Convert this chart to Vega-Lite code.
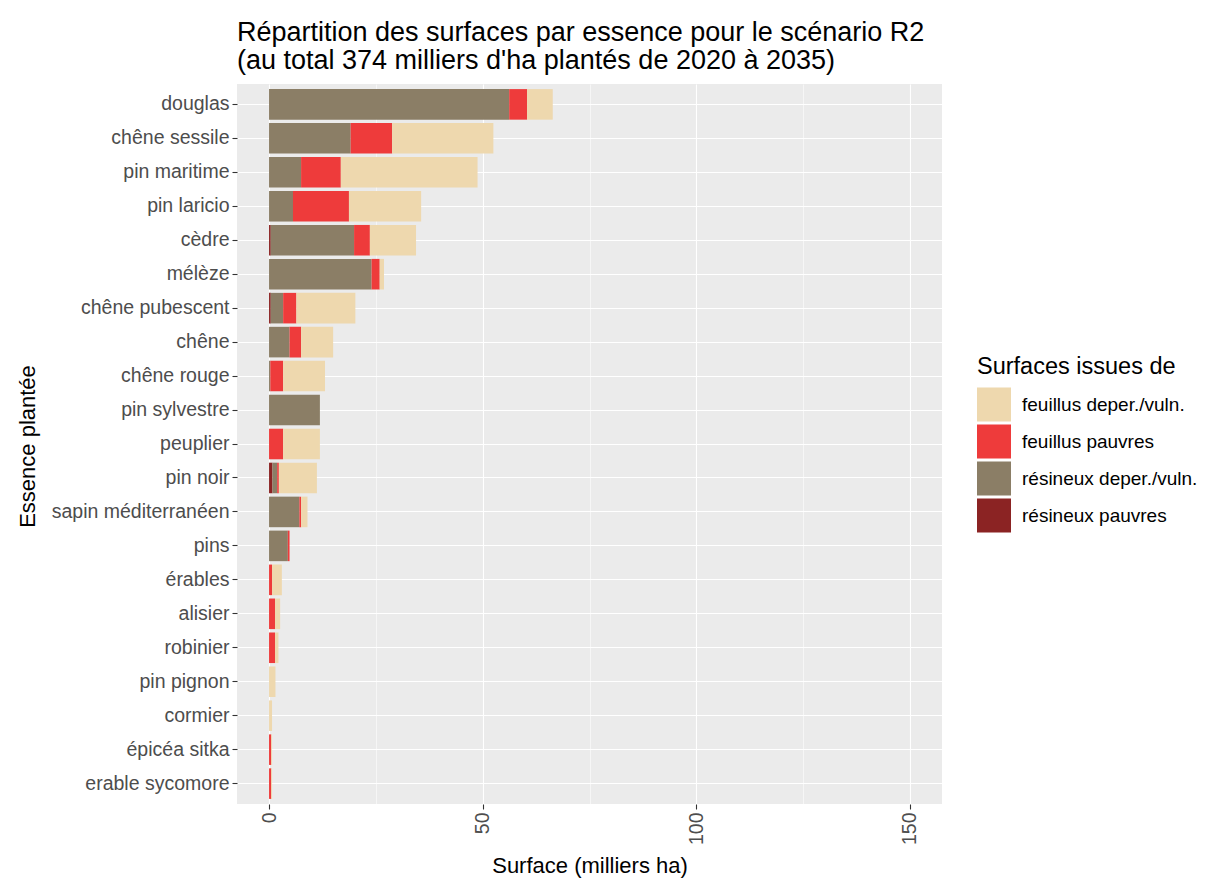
{
  "$schema": "https://vega.github.io/schema/vega-lite/v6.json",
  "width": 705,
  "height": 720,
  "autosize": {"type": "none"},
  "padding": {"left": 237, "top": 84, "right": 267, "bottom": 76},
  "background": "white",
  "title": {
    "text": ["Répartition des surfaces par essence pour le scénario R2", "(au total 374 milliers d'ha plantés de 2020 à 2035)"],
    "anchor": "start",
    "frame": "group",
    "font": "Liberation Sans",
    "fontSize": 27,
    "fontWeight": "normal",
    "color": "black",
    "lineHeight": 28.5,
    "offset": 9
  },
  "config": {
    "view": {"fill": "#EBEBEB", "stroke": null},
    "font": "Liberation Sans"
  },
  "data": {
    "values": [
      {"essence": "douglas", "type": "résineux deper./vuln.", "surface": 56.2},
      {"essence": "douglas", "type": "feuillus pauvres", "surface": 4.2},
      {"essence": "douglas", "type": "feuillus deper./vuln.", "surface": 6.0},
      {"essence": "chêne sessile", "type": "résineux deper./vuln.", "surface": 19.1},
      {"essence": "chêne sessile", "type": "feuillus pauvres", "surface": 9.7},
      {"essence": "chêne sessile", "type": "feuillus deper./vuln.", "surface": 23.7},
      {"essence": "pin maritime", "type": "résineux deper./vuln.", "surface": 7.5},
      {"essence": "pin maritime", "type": "feuillus pauvres", "surface": 9.3},
      {"essence": "pin maritime", "type": "feuillus deper./vuln.", "surface": 32.0},
      {"essence": "pin laricio", "type": "résineux deper./vuln.", "surface": 5.6},
      {"essence": "pin laricio", "type": "feuillus pauvres", "surface": 13.1},
      {"essence": "pin laricio", "type": "feuillus deper./vuln.", "surface": 16.9},
      {"essence": "cèdre", "type": "résineux pauvres", "surface": 0.4},
      {"essence": "cèdre", "type": "résineux deper./vuln.", "surface": 19.5},
      {"essence": "cèdre", "type": "feuillus pauvres", "surface": 3.7},
      {"essence": "cèdre", "type": "feuillus deper./vuln.", "surface": 10.8},
      {"essence": "mélèze", "type": "résineux deper./vuln.", "surface": 24.0},
      {"essence": "mélèze", "type": "feuillus pauvres", "surface": 1.9},
      {"essence": "mélèze", "type": "feuillus deper./vuln.", "surface": 1.0},
      {"essence": "chêne pubescent", "type": "résineux pauvres", "surface": 0.4},
      {"essence": "chêne pubescent", "type": "résineux deper./vuln.", "surface": 2.9},
      {"essence": "chêne pubescent", "type": "feuillus pauvres", "surface": 3.1},
      {"essence": "chêne pubescent", "type": "feuillus deper./vuln.", "surface": 13.8},
      {"essence": "chêne", "type": "résineux deper./vuln.", "surface": 4.8},
      {"essence": "chêne", "type": "feuillus pauvres", "surface": 2.7},
      {"essence": "chêne", "type": "feuillus deper./vuln.", "surface": 7.5},
      {"essence": "chêne rouge", "type": "résineux deper./vuln.", "surface": 0.3},
      {"essence": "chêne rouge", "type": "feuillus pauvres", "surface": 3.0},
      {"essence": "chêne rouge", "type": "feuillus deper./vuln.", "surface": 9.8},
      {"essence": "pin sylvestre", "type": "résineux deper./vuln.", "surface": 11.9},
      {"essence": "peuplier", "type": "feuillus pauvres", "surface": 3.3},
      {"essence": "peuplier", "type": "feuillus deper./vuln.", "surface": 8.6},
      {"essence": "pin noir", "type": "résineux pauvres", "surface": 0.8},
      {"essence": "pin noir", "type": "résineux deper./vuln.", "surface": 1.1},
      {"essence": "pin noir", "type": "feuillus pauvres", "surface": 0.4},
      {"essence": "pin noir", "type": "feuillus deper./vuln.", "surface": 8.9},
      {"essence": "sapin méditerranéen", "type": "résineux deper./vuln.", "surface": 7.1},
      {"essence": "sapin méditerranéen", "type": "feuillus pauvres", "surface": 0.4},
      {"essence": "sapin méditerranéen", "type": "feuillus deper./vuln.", "surface": 1.5},
      {"essence": "pins", "type": "résineux deper./vuln.", "surface": 4.4},
      {"essence": "pins", "type": "feuillus pauvres", "surface": 0.4},
      {"essence": "érables", "type": "feuillus pauvres", "surface": 0.7},
      {"essence": "érables", "type": "feuillus deper./vuln.", "surface": 2.3},
      {"essence": "alisier", "type": "feuillus pauvres", "surface": 1.4},
      {"essence": "alisier", "type": "feuillus deper./vuln.", "surface": 1.2},
      {"essence": "robinier", "type": "feuillus pauvres", "surface": 1.4},
      {"essence": "robinier", "type": "feuillus deper./vuln.", "surface": 0.8},
      {"essence": "pin pignon", "type": "feuillus deper./vuln.", "surface": 1.5},
      {"essence": "cormier", "type": "feuillus deper./vuln.", "surface": 0.7},
      {"essence": "épicéa sitka", "type": "feuillus pauvres", "surface": 0.5},
      {"essence": "épicéa sitka", "type": "feuillus deper./vuln.", "surface": 0.2},
      {"essence": "erable sycomore", "type": "feuillus pauvres", "surface": 0.5},
      {"essence": "erable sycomore", "type": "feuillus deper./vuln.", "surface": 0.2}
    ]
  },
  "mark": {"type": "bar"},
  "encoding": {
    "y": {
      "field": "essence",
      "type": "nominal",
      "sort": ["douglas", "chêne sessile", "pin maritime", "pin laricio", "cèdre", "mélèze", "chêne pubescent", "chêne", "chêne rouge", "pin sylvestre", "peuplier", "pin noir", "sapin méditerranéen", "pins", "érables", "alisier", "robinier", "pin pignon", "cormier", "épicéa sitka", "erable sycomore"],
      "scale": {"paddingInner": 0.1, "paddingOuter": 0.15},
      "axis": {
        "title": "Essence plantée",
        "titleFont": "Liberation Sans",
        "titleFontSize": 22,
        "titleFontWeight": "normal",
        "titleColor": "black",
        "titleAngle": -90,
        "titleX": -210,
        "titleY": 362,
        "titleAlign": "center",
        "titleBaseline": "middle",
        "labelFont": "Liberation Sans",
        "labelFontSize": 19.5,
        "labelColor": "#4D4D4D",
        "labelPadding": 3,
        "labelLimit": 0,
        "tickColor": "#333333",
        "tickSize": 5,
        "tickWidth": 1.1,
        "domain": false,
        "grid": true,
        "gridColor": "white",
        "gridWidth": 1.1
      }
    },
    "x": {
      "field": "surface",
      "type": "quantitative",
      "stack": "zero",
      "scale": {"domain": [-7.5, 157.5], "nice": false, "zero": false},
      "axis": {
        "title": "Surface (milliers ha)",
        "titleFont": "Liberation Sans",
        "titleFontSize": 22,
        "titleFontWeight": "normal",
        "titleColor": "black",
        "titleY": 61,
        "titleBaseline": "middle",
        "values": [0, 25, 50, 75, 100, 125, 150],
        "labelExpr": "datum.value % 50 === 0 ? datum.label : ''",
        "labelAngle": -90,
        "labelAlign": "right",
        "labelBaseline": "middle",
        "labelFont": "Liberation Sans",
        "labelFontSize": 19.5,
        "labelColor": "#4D4D4D",
        "labelPadding": 3,
        "tickColor": "#333333",
        "tickSize": 5,
        "tickWidth": 1.1,
        "tickOpacity": {"condition": {"test": "datum.value % 50 === 0", "value": 1}, "value": 0},
        "domain": false,
        "grid": true,
        "gridColor": "white",
        "gridWidth": {"condition": {"test": "datum.value % 50 === 0", "value": 1.1}, "value": 0.55}
      }
    },
    "color": {
      "field": "type",
      "type": "nominal",
      "scale": {
        "domain": ["feuillus deper./vuln.", "feuillus pauvres", "résineux deper./vuln.", "résineux pauvres"],
        "range": ["#EED8AE", "#EE3B3B", "#8B7E66", "#8B2323"]
      },
      "legend": {
        "orient": "none",
        "legendX": 740,
        "legendY": 271,
        "title": "Surfaces issues de",
        "titleFont": "Liberation Sans",
        "titleFontSize": 23.5,
        "titleFontWeight": "normal",
        "titleColor": "black",
        "titlePadding": 9,
        "titleLimit": 0,
        "labelFont": "Liberation Sans",
        "labelFontSize": 19,
        "labelColor": "black",
        "labelLimit": 0,
        "labelOffset": 11,
        "symbolType": "square",
        "symbolSize": 1156,
        "symbolStrokeWidth": 0,
        "symbolOpacity": 1,
        "rowPadding": 3
      }
    },
    "order": {"field": "type", "sort": "descending"}
  }
}
